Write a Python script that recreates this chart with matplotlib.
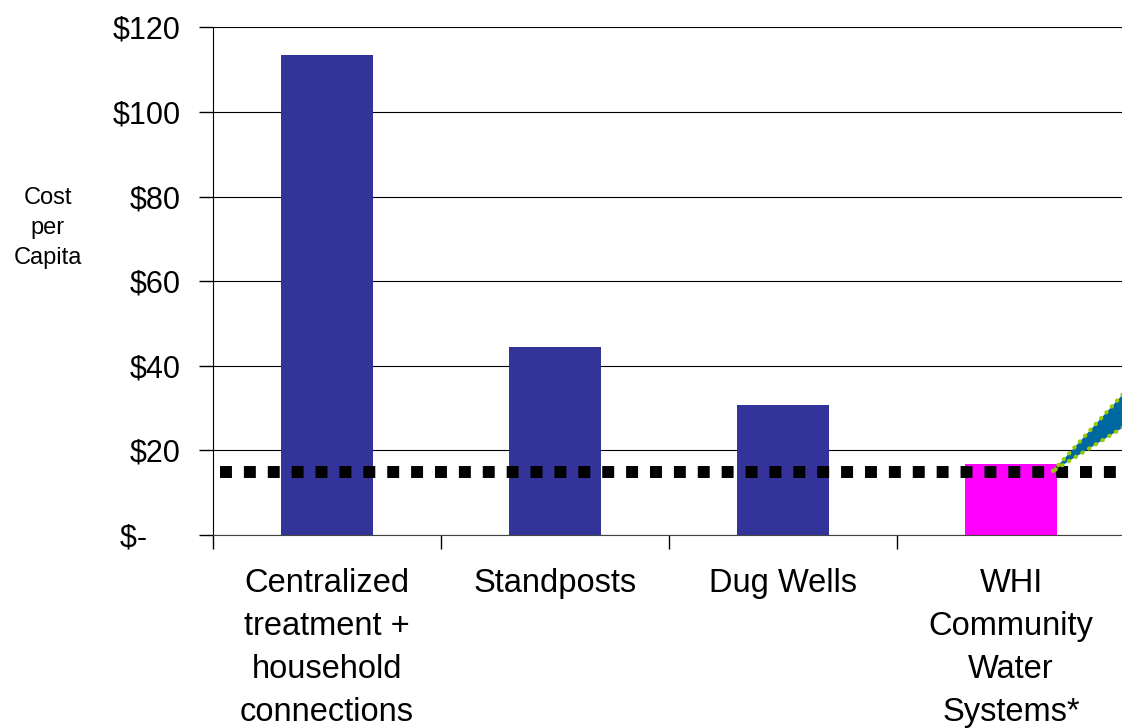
import matplotlib.pyplot as plt
from matplotlib.patches import Polygon

# valeurs
categories = ["Centralized\ntreatment +\nhousehold\nconnections", "Standposts",
              "Dug Wells", "WHI\nCommunity\nWater\nSystems*"]
cost = [113.4, 44.4, 30.7, 16.8]
bar_colors = ["#333399", "#333399", "#333399", "#FF00FF"]
yticks = [0, 20, 40, 60, 80, 100, 120]
ytick_labels = ["$-    ", "$20", "$40", "$60", "$80", "$100", "$120"]
threshold = 15


def main():
    plt.rcParams['font.family'] = ['Liberation Sans', 'DejaVu Sans']
    fig = plt.figure(figsize=(11.22, 7.28), dpi=100)
    ax = fig.add_axes([213 / 1122, 1 - 535 / 728, 912 / 1122, 507.7 / 728])

    x = range(len(categories))
    ax.bar(x, cost, width=0.4, color=bar_colors, zorder=2)
    ax.set_xlim(-0.5, len(categories) - 0.5)
    ax.set_ylim(0, 120)

    # ligne de seuil en pointillés carrés
    ax.plot([-0.5 + 7 / 228, len(categories) - 0.5], [threshold, threshold],
            color='black', lw=8.6, linestyle=(0, (1, 1)),
            dash_capstyle='butt', zorder=3, clip_on=False)

    ax.set_yticks(yticks)
    ax.set_yticklabels(ytick_labels, fontsize=22)
    ax.yaxis.grid(True, color='black', lw=0.8, zorder=0)
    ax.set_xticks([i + 0.5 for i in range(-1, len(categories))])
    ax.set_xticklabels([])
    for i, lab in enumerate(categories):
        ax.text(i, -7.8, lab, ha='center', va='top', fontsize=23.5,
                linespacing=1.5)
    ax.tick_params(axis='y', length=10, width=1, pad=13)
    ax.tick_params(axis='x', length=10, width=1)
    ax.spines['top'].set_visible(False)
    ax.spines['right'].set_visible(False)
    ax.spines['bottom'].set_color('#444444')

    fig.text(48 / 1122, 1 - 228 / 728, "Cost\nper\nCapita", ha='center',
             va='center', fontsize=17, linespacing=1.45)

    # flèche bleue (légende coupée à droite)
    pts = [(1053, 471), (1135, 381), (1135, 420)]
    pts = [(px / 1122, 1 - py / 728) for px, py in pts]
    fig.patches.append(Polygon(pts, closed=True, facecolor='#0068A0',
                               edgecolor='none', transform=fig.transFigure,
                               zorder=5))
    fig.patches.append(Polygon(pts, closed=True, facecolor='none',
                               edgecolor='#99CC00', lw=3,
                               linestyle=(0, (0.1, 1.8)), capstyle='round',
                               transform=fig.transFigure, zorder=6))

    fig.savefig('out.png', dpi=100)


if __name__ == "__main__":
    main()
